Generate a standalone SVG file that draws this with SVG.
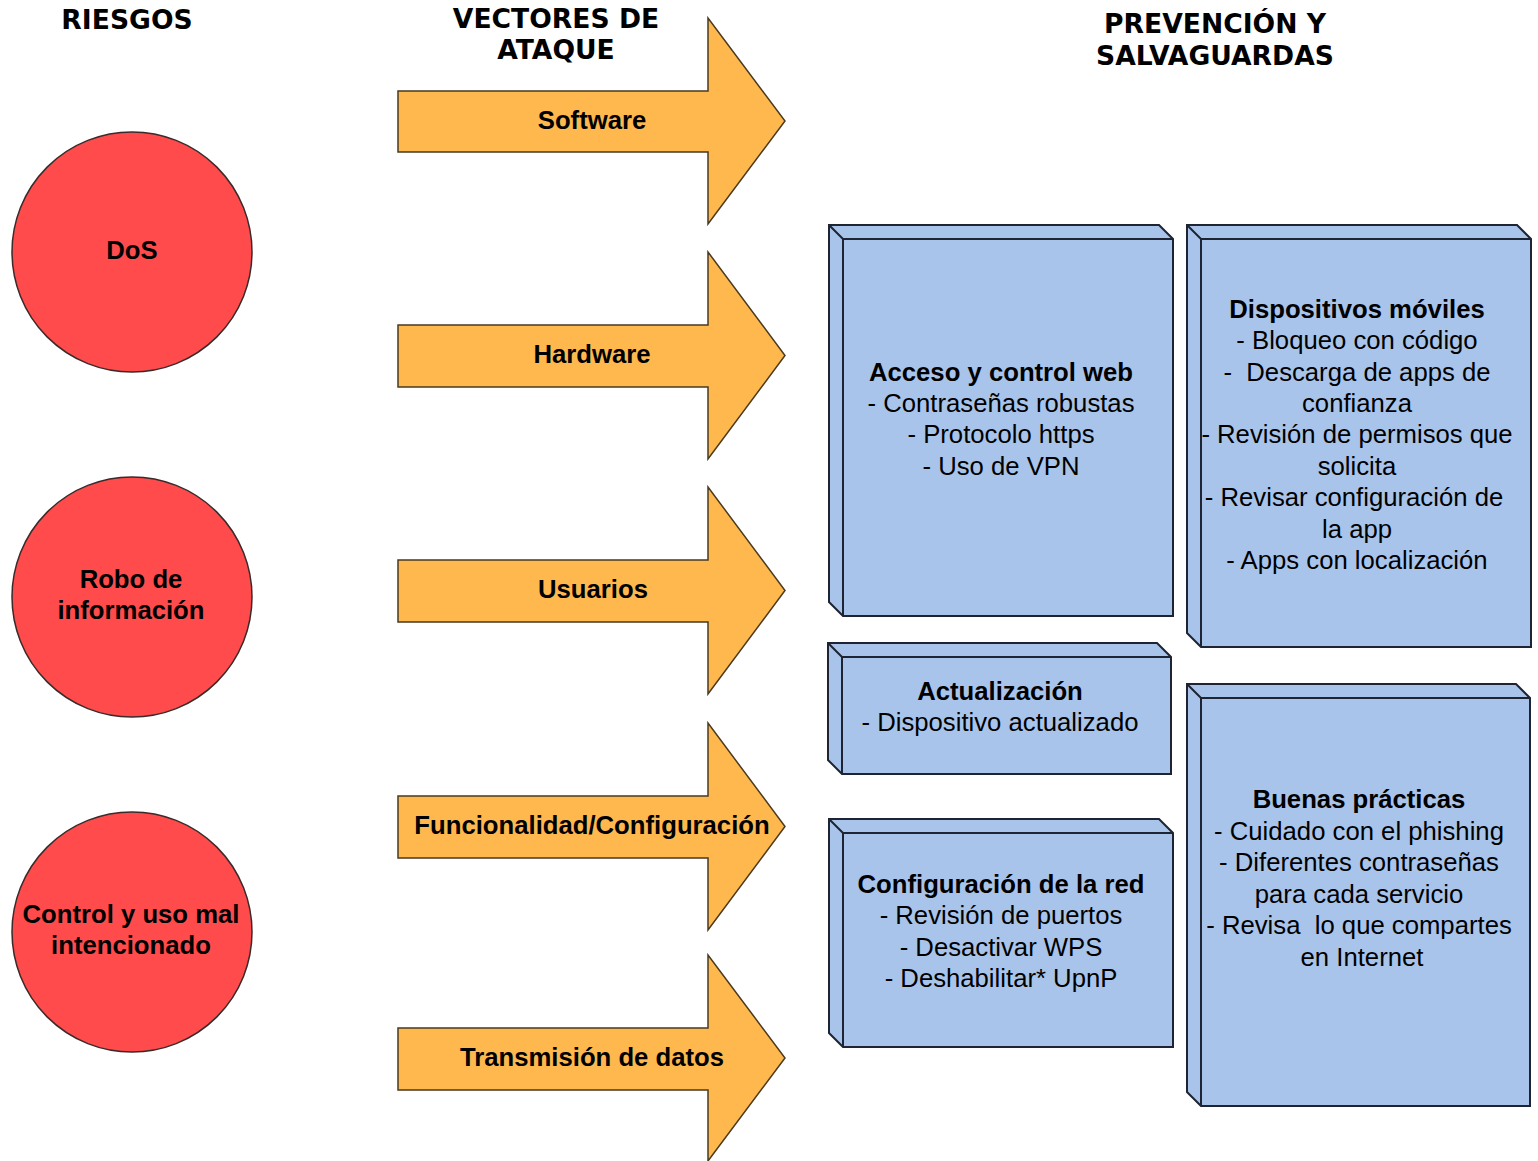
<svg xmlns="http://www.w3.org/2000/svg" width="1538" height="1161" viewBox="0 0 1538 1161">
<defs>
<style>
.hdr{font-family:"DejaVu Sans",Verdana,sans-serif;font-weight:bold;font-size:26.6px;fill:#000;text-anchor:middle}
.lbl{font-family:"Liberation Sans",Arial,sans-serif;font-size:25.7px;fill:#000;text-anchor:middle}
.b{font-weight:bold}
.circ{fill:#FF4B4B;stroke:#3a2a2a;stroke-width:1.5}
.arr{fill:#FFB84D;stroke:#4a3a20;stroke-width:1.5;stroke-linejoin:miter}
.face{fill:#A9C4EB;stroke:#1f2433;stroke-width:2;stroke-linejoin:miter}
.edge{fill:none;stroke:#1f2433;stroke-width:2}
</style>
</defs>
<rect width="1538" height="1161" fill="#fff"/>

<g id="headers">
<text class="hdr" x="127" y="29">RIESGOS</text>
<text class="hdr" x="556" y="28">VECTORES DE</text>
<text class="hdr" x="556" y="59">ATAQUE</text>
<text class="hdr" x="1215" y="33">PREVENCIÓN Y</text>
<text class="hdr" x="1215" y="65">SALVAGUARDAS</text>
</g>

<g id="risk-dos">
<circle class="circ" cx="132" cy="252" r="120"/>
<text class="lbl b" x="132" y="259">DoS</text>
</g>
<g id="risk-robo">
<circle class="circ" cx="132" cy="597" r="120"/>
<text class="lbl b" x="131" y="588">Robo de</text>
<text class="lbl b" x="131" y="619">información</text>
</g>
<g id="risk-control">
<circle class="circ" cx="132" cy="932" r="120"/>
<text class="lbl b" x="131" y="923">Control y uso mal</text>
<text class="lbl b" x="131" y="954">intencionado</text>
</g>

<g id="vec-software">
<path class="arr" d="M398,91 H708 V18 L785,121 L708,224 V152 H398 Z"/>
<text class="lbl b" x="592" y="129">Software</text>
</g>
<g id="vec-hardware">
<path class="arr" d="M398,325 H708 V252 L785,355.5 L708,459 V387 H398 Z"/>
<text class="lbl b" x="592" y="363">Hardware</text>
</g>
<g id="vec-usuarios">
<path class="arr" d="M398,560 H708 V487 L785,590.5 L708,694 V622 H398 Z"/>
<text class="lbl b" x="593" y="598">Usuarios</text>
</g>
<g id="vec-funcionalidad">
<path class="arr" d="M398,796 H708 V723 L785,826.5 L708,930 V858 H398 Z"/>
<text class="lbl b" x="592" y="834">Funcionalidad/Configuración</text>
</g>
<g id="vec-transmision">
<path class="arr" d="M398,1028 H708 V955 L785,1058 L708,1161 V1090 H398 Z"/>
<text class="lbl b" x="592" y="1066">Transmisión de datos</text>
</g>

<g id="box-acceso">
<path class="face" d="M829,225 H1159 L1173,239 V616 H843 L829,602 Z"/>
<path class="edge" d="M829,225 L843,239 H1173 M843,239 V616"/>
<text class="lbl b" x="1001" y="381">Acceso y control web</text>
<text class="lbl" x="1001" y="412">- Contraseñas robustas</text>
<text class="lbl" x="1001" y="443">- Protocolo https</text>
<text class="lbl" x="1001" y="475">- Uso de VPN</text>
</g>

<g id="box-actualizacion">
<path class="face" d="M828,643 H1157 L1171,657 V774 H842 L828,760 Z"/>
<path class="edge" d="M828,643 L842,657 H1171 M842,657 V774"/>
<text class="lbl b" x="1000" y="700">Actualización</text>
<text class="lbl" x="1000" y="731">- Dispositivo actualizado</text>
</g>

<g id="box-red">
<path class="face" d="M829,819 H1159 L1173,833 V1047 H843 L829,1033 Z"/>
<path class="edge" d="M829,819 L843,833 H1173 M843,833 V1047"/>
<text class="lbl b" x="1001" y="893">Configuración de la red</text>
<text class="lbl" x="1001" y="924">- Revisión de puertos</text>
<text class="lbl" x="1001" y="956">- Desactivar WPS</text>
<text class="lbl" x="1001" y="987">- Deshabilitar* UpnP</text>
</g>

<g id="box-moviles">
<path class="face" d="M1187,225 H1517 L1531,239 V647 H1201 L1187,633 Z"/>
<path class="edge" d="M1187,225 L1201,239 H1531 M1201,239 V647"/>
<text class="lbl b" x="1357" y="318">Dispositivos móviles</text>
<text class="lbl" x="1357" y="349">- Bloqueo con código</text>
<text class="lbl" x="1357" y="381" xml:space="preserve">-  Descarga de apps de</text>
<text class="lbl" x="1357" y="412">confianza</text>
<text class="lbl" x="1357" y="443">- Revisión de permisos que</text>
<text class="lbl" x="1357" y="475">solicita</text>
<text class="lbl" x="1354" y="506">- Revisar configuración de</text>
<text class="lbl" x="1357" y="538">la app</text>
<text class="lbl" x="1357" y="569">- Apps con localización</text>
</g>

<g id="box-buenas">
<path class="face" d="M1187,684 H1516 L1530,698 V1106 H1201 L1187,1092 Z"/>
<path class="edge" d="M1187,684 L1201,698 H1530 M1201,698 V1106"/>
<text class="lbl b" x="1359" y="808">Buenas prácticas</text>
<text class="lbl" x="1359" y="840">- Cuidado con el phishing</text>
<text class="lbl" x="1359" y="871">- Diferentes contraseñas</text>
<text class="lbl" x="1359" y="903">para cada servicio</text>
<text class="lbl" x="1359" y="934" xml:space="preserve">- Revisa  lo que compartes</text>
<text class="lbl" x="1362" y="966">en Internet</text>
</g>

<g id="connectors"></g>
</svg>
